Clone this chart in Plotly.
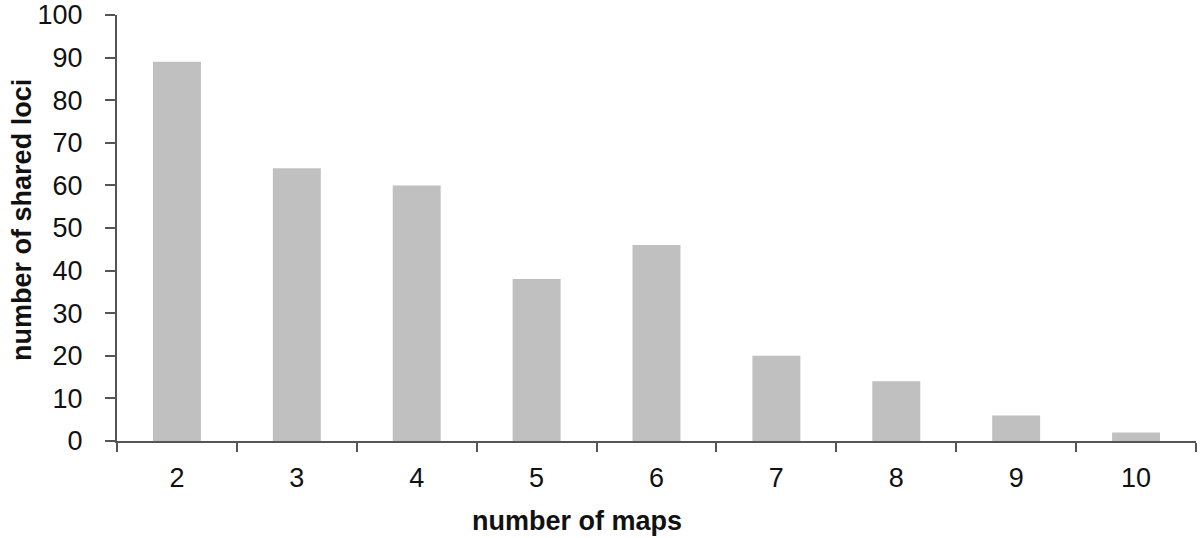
import plotly.graph_objects as go

categories = ["2", "3", "4", "5", "6", "7", "8", "9", "10"]
shared_loci = [89, 64, 60, 38, 46, 20, 14, 6, 2]
y_ticks = [0, 10, 20, 30, 40, 50, 60, 70, 80, 90, 100]
x_title = "number of maps"
y_title = "number of shared loci"

fig = go.Figure(go.Bar(
    x=categories, y=shared_loci,
    marker=dict(color="#c0c0c0", line=dict(width=0)),
    width=0.4,
))

font = "Liberation Sans, Arial, sans-serif"
fig.update_layout(
    width=1200, height=538,
    margin=dict(l=117, r=4, t=15, b=97),
    plot_bgcolor="white", paper_bgcolor="white",
    showlegend=False,
    font=dict(family=font, color="#111", size=27),
)
fig.update_xaxes(
    type="category", range=[-0.5, 8.5], automargin=False,
    showline=True, linecolor="#555", linewidth=2,
    ticks="outside", tickson="boundaries", ticklen=9, tickcolor="#555", tickwidth=2,
    showgrid=False, tickfont=dict(size=27, family=font),
    ticklabelstandoff=12, ticklabeloverflow="allow",
)
fig.update_yaxes(
    range=[0, 100], tickvals=y_ticks, automargin=False,
    showline=True, linecolor="#555", linewidth=2,
    ticks="outside", ticklen=10, tickcolor="#555", tickwidth=2,
    showgrid=False, zeroline=False, tickfont=dict(size=27, family=font),
    ticklabelstandoff=17, ticklabeloverflow="allow",
)
fig.add_annotation(
    text="<b>%s</b>" % x_title, xref="paper", yref="paper",
    x=0.426, y=0, xanchor="center", yanchor="middle", yshift=-80,
    showarrow=False, font=dict(size=27, family=font, color="#111"),
)
fig.add_annotation(
    text="<b>%s</b>" % y_title, xref="paper", yref="paper",
    x=0, y=0.519, xanchor="center", yanchor="middle", xshift=-95,
    textangle=-90, showarrow=False, font=dict(size=27, family=font, color="#111"),
)

fig.write_html("out.html", config={"displayModeBar": False},
               post_script="document.body.style.margin='0';")
